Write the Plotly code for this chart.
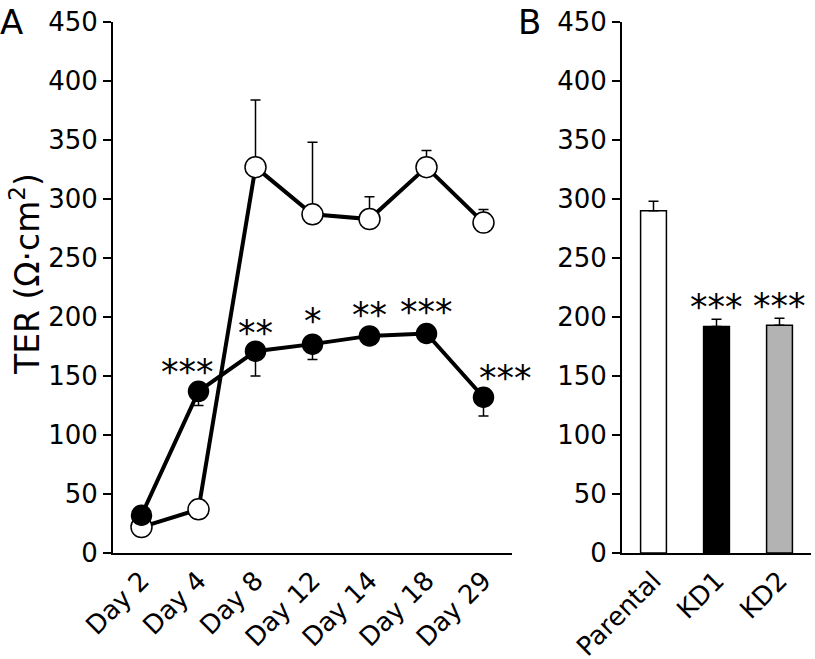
import plotly.graph_objects as go

days = ["Day 2", "Day 4", "Day 8", "Day 12", "Day 14", "Day 18", "Day 29"]
parental_vals = [22, 37, 327, 287, 283, 327, 280]
parental_err_up = [0, 0, 57, 61, 19, 14, 11]
kd_vals = [32, 137, 171, 177, 184, 186, 132]
kd_err_down = [0, 12, 21, 13, 0, 0, 16]
sig_a = ["", "***", "**", "*", "**", "***", "***"]

groups = ["Parental", "KD1", "KD2"]
bar_vals = [290, 192, 193]
bar_err = [8, 6, 6]
bar_colors = ["#ffffff", "#000000", "#b3b3b3"]
sig_b = ["", "***", "***"]

FONT = "DejaVu Sans"
W, H = 815, 659
T, B = 22, 106
PH = H - T - B

fig = go.Figure()

fig.add_trace(go.Scatter(
    x=days, y=parental_vals, mode="lines+markers",
    line=dict(color="black", width=4),
    marker=dict(size=21, color="white", line=dict(color="black", width=1.5)),
    error_y=dict(type="data", array=parental_err_up, arrayminus=[0]*7, symmetric=False,
                 color="black", thickness=1.5, width=5),
    xaxis="x", yaxis="y", showlegend=False))
fig.add_trace(go.Scatter(
    x=days, y=kd_vals, mode="lines+markers",
    line=dict(color="black", width=4),
    marker=dict(size=20, color="black", line=dict(color="black", width=1.5)),
    error_y=dict(type="data", array=[0]*7, arrayminus=kd_err_down, symmetric=False,
                 color="black", thickness=1.5, width=5),
    xaxis="x", yaxis="y", showlegend=False))

fig.add_trace(go.Bar(
    x=groups, y=bar_vals, width=0.41,
    marker=dict(color=bar_colors, line=dict(color="black", width=1.5)),
    error_y=dict(type="data", array=bar_err, arrayminus=[0]*3, symmetric=False,
                 color="black", thickness=1.5, width=5),
    xaxis="x2", yaxis="y2", showlegend=False))

annotations = []
# significance marks panel A (offsets relative to points)
dx = [0, -0.19, 0, 0, 0, 0, 0.39]
dy = [0, -2, -3, 1, -1, 0, -2]
for i, s in enumerate(sig_a):
    if s:
        annotations.append(dict(x=i + dx[i], y=kd_vals[i] + dy[i], xref="x", yref="y",
                                text=s, showarrow=False, yanchor="bottom",
                                font=dict(family=FONT, size=35, color="black")))
for i, s in enumerate(sig_b):
    if s:
        annotations.append(dict(x=i, y=bar_vals[i] - 2, xref="x2", yref="y2",
                                text=s, showarrow=False, yanchor="bottom",
                                font=dict(family=FONT, size=35, color="black")))
annotations.append(dict(x=-2/W, y=1 + T/PH, xref="paper", yref="paper", text="A", showarrow=False,
                        xanchor="left", yanchor="top", font=dict(family=FONT, size=34, color="black")))
annotations.append(dict(x=516/W, y=1 + T/PH, xref="paper", yref="paper", text="B", showarrow=False,
                        xanchor="left", yanchor="top", font=dict(family=FONT, size=34, color="black")))
annotations.append(dict(x=25/W, y=1 - (274 - T)/PH, xref="paper", yref="paper",
                        text="TER (Ω·cm<sup>2</sup>)", textangle=-90, showarrow=False,
                        xanchor="center", yanchor="middle",
                        font=dict(family=FONT, size=33, color="black")))

yax = dict(range=[0, 450], tickvals=list(range(0, 451, 50)), showline=True, linecolor="black",
           linewidth=2, ticks="outside", ticklen=8, tickwidth=2, tickcolor="black",
           showgrid=False, zeroline=False, automargin=False,
           tickfont=dict(family=FONT, size=26, color="black"))
xax = dict(showline=True, linecolor="black", linewidth=2, ticks="", showgrid=False,
           zeroline=False, tickangle=-45, automargin=False,
           tickfont=dict(family=FONT, size=26, color="black"))

fig.update_layout(
    width=W, height=H,
    margin=dict(l=0, r=0, t=T, b=B, autoexpand=False),
    paper_bgcolor="white", plot_bgcolor="white",
    xaxis=dict(xax, domain=[113/W, 512/W], range=[-0.5, 6.5], anchor="y"),
    yaxis=dict(yax, anchor="x"),
    xaxis2=dict(xax, domain=[622/W, 811/W], range=[-0.5, 2.5], anchor="y2"),
    yaxis2=dict(yax, anchor="x2"),
    annotations=annotations,
)

fig.write_html("out.html", config={"displayModeBar": False},
               post_script="document.body.style.margin='0';document.body.style.overflow='hidden';")
